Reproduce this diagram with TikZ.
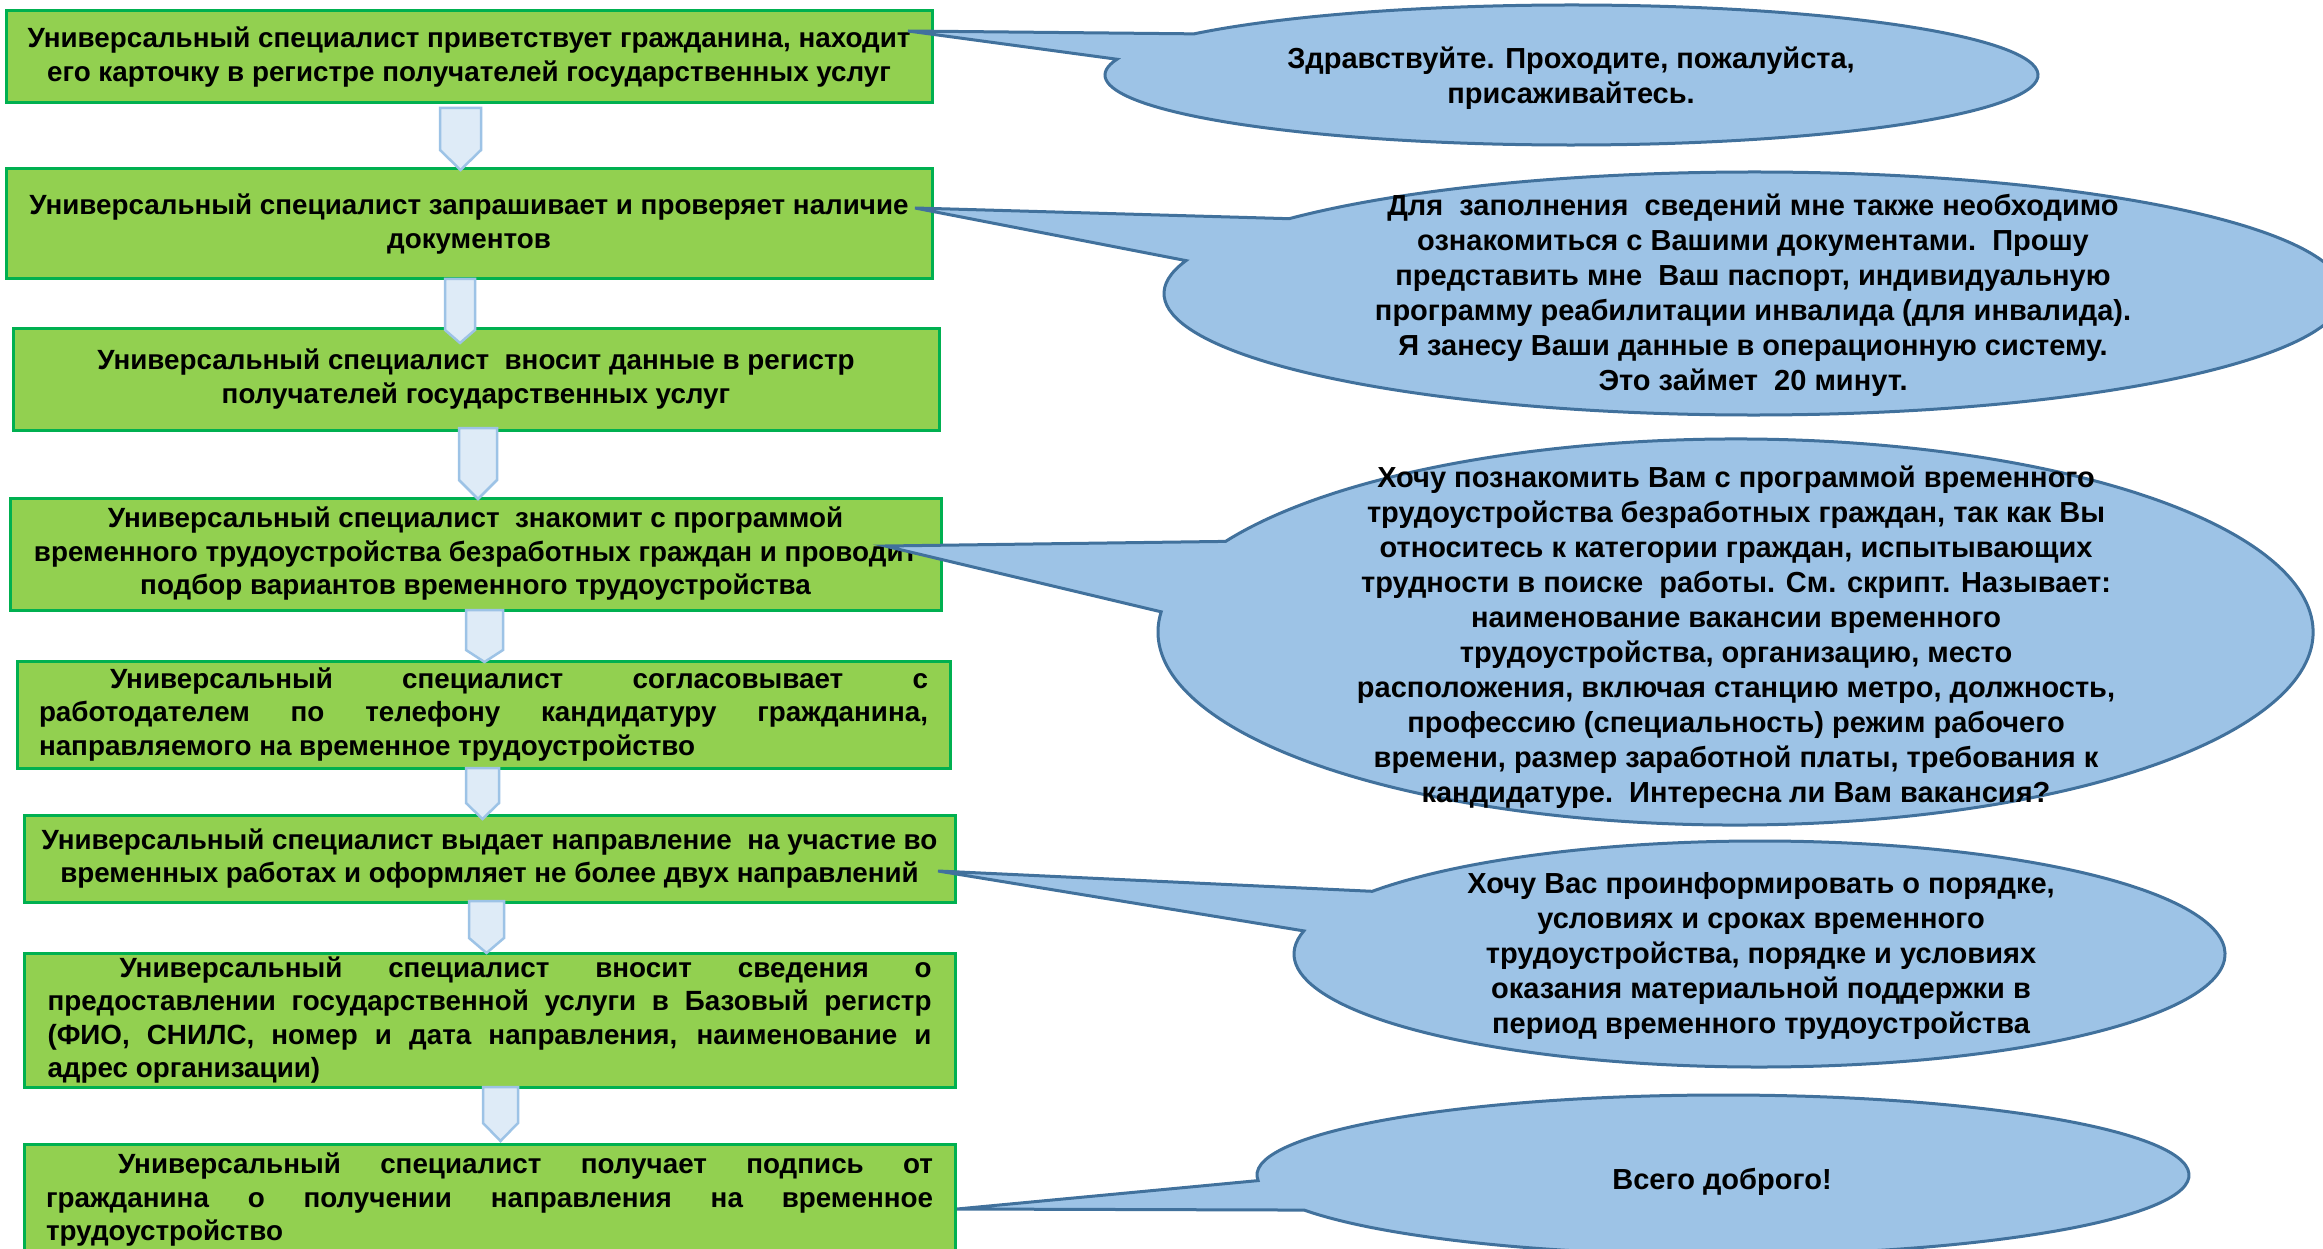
\documentclass[tikz,border=0pt]{standalone}
\usepackage{fontspec}
\setmainfont{Liberation Sans}
\usetikzlibrary{calc}
\definecolor{boxfill}{HTML}{92D050}
\definecolor{boxline}{HTML}{00B050}
\definecolor{callfill}{HTML}{9DC3E6}
\definecolor{callline}{HTML}{41719C}
\definecolor{arrfill}{HTML}{DEEBF7}
\definecolor{arrline}{HTML}{9DC3E6}
\newcommand{\mycallout}[9]{%
  \coordinate (#1c) at (#2,#3);
  \coordinate (#1tip) at (#8,#9);
  \draw[callshape] ($(#1c)+({#4*cos(#6)},{-#5*sin(#6)})$) arc[start angle=#6, end angle={#7-360}, x radius=#4pt, y radius=#5pt] -- (#1tip) -- cycle;
}
\newcommand{\myblockarrow}[6]{%
  \draw[blockarr] (#2,#4) coordinate (#1top) -- (#3,#4) -- (#3,#5) -- ({(#2+#3)/2},#6) coordinate (#1tip) -- (#2,#5) -- cycle;
}
\begin{document}
\begin{tikzpicture}[x=1pt,y=-1pt,
  box/.style={draw=boxline, fill=boxfill, line width=3pt, inner sep=0pt, align=center,
    font=\bfseries\fontsize{27.8}{33.5}\selectfont},
  blockarr/.style={draw=arrline, fill=arrfill, line width=2.5pt},
  callshape/.style={draw=callline, fill=callfill, line width=3pt},
  calltext/.style={align=center, inner sep=0pt, font=\bfseries\fontsize{29}{35}\selectfont}]
\path[use as bounding box] (0,0) rectangle (2323,1249);
\fill[white] (0,0) rectangle (2323,1249);
\clip (0,0) rectangle (2323,1249);

% process boxes
\node[box, minimum width=926pt, minimum height=92pt] (b1) at (469,57)
 {Универсальный специалист приветствует гражданина, находит\\его карточку в регистре получателей государственных услуг};
\node[box, minimum width=926pt, minimum height=110pt] (b2) at (469,224)
 {Универсальный специалист запрашивает и проверяет наличие\\документов};
\node[box, minimum width=926pt, minimum height=102pt] (b3) at (476,379)
 {Универсальный специалист\ \ вносит данные в регистр\\получателей государственных услуг};
\node[box, minimum width=931pt, minimum height=112pt] (b4) at (475.5,554)
 {Универсальный специалист\ \ знакомит с программой\\временного трудоустройства безработных граждан и проводит\\подбор вариантов временного трудоустройства};
\node[box, minimum width=933pt, minimum height=107pt] (b5) at (483.5,714.5)
 {\makebox[889pt][s]{\hspace*{71pt}Универсальный специалист согласовывает с}\\
  \makebox[889pt][s]{работодателем по телефону кандидатуру гражданина,}\\
  \makebox[889pt][l]{направляемого на временное трудоустройство}};
\node[box, minimum width=931pt, minimum height=87pt] (b6) at (489.5,858.5)
 {Универсальный специалист выдает направление\ \ на участие во\\временных работах и оформляет не более двух направлений};
\node[box, minimum width=931pt, minimum height=134pt] (b7) at (489.5,1020)
 {\makebox[884pt][s]{\hspace*{72pt}Универсальный специалист вносит сведения о}\\
  \makebox[884pt][s]{предоставлении государственной услуги в Базовый регистр}\\
  \makebox[884pt][s]{(ФИО, СНИЛС, номер и дата направления, наименование и}\\
  \makebox[884pt][l]{адрес организации)}};
\node[box, minimum width=931pt, minimum height=112pt] (b8) at (489.5,1200)
 {\makebox[887pt][s]{\hspace*{72pt}Универсальный специалист получает подпись от}\\
  \makebox[887pt][s]{гражданина о получении направления на временное}\\
  \makebox[887pt][l]{трудоустройство}};

% block arrows
\myblockarrow{a1}{440}{481}{108}{150}{170}
\myblockarrow{a2}{445}{475}{279}{330}{343}
\myblockarrow{a3}{459}{497}{428}{480}{499}
\myblockarrow{a4}{466}{503}{610}{650}{662}
\myblockarrow{a5}{466}{499}{768}{803}{819}
\myblockarrow{a6}{469}{504}{901}{938}{953}
\myblockarrow{a7}{483}{518}{1087}{1123}{1141}

% callouts
\mycallout{c1}{1571.5}{75}{466.5}{70}{144}{167}{908}{31}
\node[calltext] (t1) at (1571,78) {Здравствуйте. Проходите, пожалуйста,\\присаживайтесь.};

\mycallout{c2}{1754}{293.5}{590}{121.5}{142}{164.3}{915}{208}
\node[calltext] (t2) at (1753,295)
 {Для\ \ заполнения\ \ сведений мне также необходимо\\ознакомиться с Вашими документами.\ \ Прошу\\представить мне\ \ Ваш паспорт, индивидуальную\\программу реабилитации инвалида (для инвалида).\\Я занесу Ваши данные в операционную систему.\\Это займет\ \ 20 минут.};

\mycallout{c3}{1735.5}{632}{577.5}{193}{152}{174}{885}{546}
\node[calltext] (t3) at (1736,637)
 {Хочу познакомить Вам с программой временного\\трудоустройства безработных граждан, так как Вы\\относитесь к категории граждан, испытывающих\\трудности в поиске\ \ работы. См. скрипт. Называет:\\наименование вакансии временного\\трудоустройства, организацию, место\\расположения, включая станцию метро, должность,\\профессию (специальность) режим рабочего\\времени, размер заработной платы, требования к\\кандидатуре.\ \ Интересна ли Вам вакансия?};

\mycallout{c4}{1759.5}{954}{465.5}{113}{146.3}{168.2}{938}{871}
\node[calltext] (t4) at (1761,956)
 {Хочу Вас проинформировать о порядке,\\условиях и сроках временного\\трудоустройства, порядке и условиях\\оказания материальной поддержки в\\период временного трудоустройства};

\mycallout{c5}{1723}{1175}{466}{80}{184}{206}{957}{1209}
\node[calltext] (t5) at (1722,1182) {Всего доброго!};
\end{tikzpicture}
\end{document}
